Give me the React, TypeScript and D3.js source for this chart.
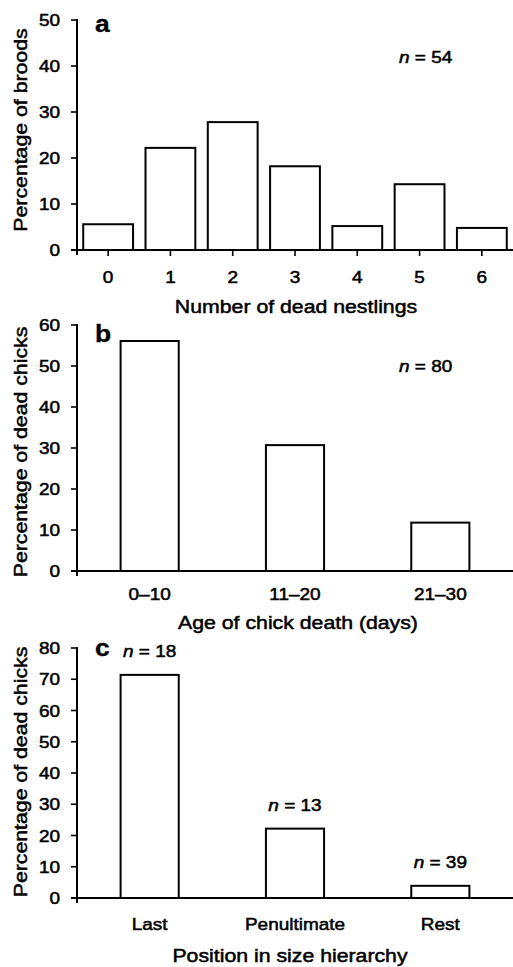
import React from 'react';
import * as d3 from 'd3';

// panel a
const deadNestlings = ['0', '1', '2', '3', '4', '5', '6'];
const broodPct = [5.6, 22.2, 27.8, 18.2, 5.2, 14.3, 4.8];
const broodTicks = [0, 10, 20, 30, 40, 50];

// panel b
const ageClasses = ['0–10', '11–20', '21–30'];
const ageDeathPct = [56.1, 30.7, 11.8];
const ageTicks = [0, 10, 20, 30, 40, 50, 60];

// panel c
const positions = ['Last', 'Penultimate', 'Rest'];
const positionPct = [71.4, 22.2, 3.9];
const positionN = ['18', '13', '39'];
const positionTicks = [0, 10, 20, 30, 40, 50, 60, 70, 80];

const FONT = '"Liberation Sans", Arial, Helvetica, sans-serif';
const STRETCH = 1.15;
const axisX = 77;
const right = 513;

const Label = ({ x, y, size, anchor = 'middle', rotate = 0, bold = false, children }) => (
  <text
    transform={`translate(${x},${y}) rotate(${rotate}) scale(${STRETCH},1)`}
    textAnchor={anchor}
    fontFamily={FONT}
    fontSize={size}
    fontWeight={bold ? 'bold' : 'normal'}
    fill="#000"
    stroke="#000"
    strokeWidth={bold ? 0.3 : 0.5}
  >
    {children}
  </text>
);

const NLabel = ({ x, y, anchor = 'middle', value }) => (
  <Label x={x} y={y} size={16.5} anchor={anchor}>
    <tspan fontStyle="italic">n</tspan> = {value}
  </Label>
);

const Panel = ({
  cats, values, ticks, top, bottom, padIn, padOut, xTicks,
  letter, letterY, yTitle, yTitleY, xTitle, xTitleX, xTitleY, catLabelY, children,
}) => {
  // scales for this panel
  const x = d3.scaleBand().domain(cats).range([axisX, right]).paddingInner(padIn).paddingOuter(padOut);
  const y = d3.scaleLinear().domain([0, ticks[ticks.length - 1]]).range([bottom, top]);

  return (
    <g>
      {/* bars */}
      {cats.map((c, i) => (
        <rect
          key={c}
          x={x(c)}
          y={y(values[i])}
          width={x.bandwidth()}
          height={y(0) - y(values[i])}
          fill="#fff"
          stroke="#000"
          strokeWidth={2}
        />
      ))}

      {/* axes */}
      <line x1={axisX - 6} x2={right} y1={y(0)} y2={y(0)} stroke="#000" strokeWidth={2} />
      <line x1={axisX} x2={axisX} y1={y(ticks[ticks.length - 1]) - 1} y2={y(0) + 5} stroke="#000" strokeWidth={2} />
      {ticks.map((t) => (
        <g key={t}>
          <line x1={axisX - 6} x2={axisX} y1={y(t)} y2={y(t)} stroke="#000" strokeWidth={1.6} />
          <Label x={60} y={y(t) + 6} size={16.5} anchor="end">{t}</Label>
        </g>
      ))}
      {cats.map((c) => (
        <g key={c}>
          {xTicks && (
            <line
              x1={x(c) + x.bandwidth() / 2}
              x2={x(c) + x.bandwidth() / 2}
              y1={y(0)}
              y2={y(0) + 6}
              stroke="#000"
              strokeWidth={1.6}
            />
          )}
          <Label x={x(c) + x.bandwidth() / 2} y={catLabelY} size={16.5}>{c}</Label>
        </g>
      ))}

      {/* titles */}
      <Label x={95} y={letterY} size={23} anchor="start" bold>{letter}</Label>
      <Label x={27} y={yTitleY} size={18.5} rotate={-90}>{yTitle}</Label>
      <Label x={xTitleX} y={xTitleY} size={18.5}>{xTitle}</Label>
      {children && children(x, y)}
    </g>
  );
};

export default function App() {
  return (
    <svg
      width={513}
      height={967}
      style={{ position: 'absolute', left: 0, top: 0, background: '#fff' }}
    >
      <rect width={513} height={967} fill="#fff" />

      <Panel
        cats={deadNestlings}
        values={broodPct}
        ticks={broodTicks}
        top={20}
        bottom={250}
        padIn={0.2}
        padOut={0.1}
        xTicks
        letter="a"
        letterY={32}
        yTitle="Percentage of broods"
        yTitleY={130}
        xTitle="Number of dead nestlings"
        xTitleX={296}
        xTitleY={313}
        catLabelY={283}
      >
        {() => <NLabel x={399} y={63} anchor="start" value="54" />}
      </Panel>

      <Panel
        cats={ageClasses}
        values={ageDeathPct}
        ticks={ageTicks}
        top={325}
        bottom={571}
        padIn={0.6}
        padOut={0.3}
        xTicks={false}
        letter="b"
        letterY={342}
        yTitle="Percentage of dead chicks"
        yTitleY={452}
        xTitle="Age of chick death (days)"
        xTitleX={298}
        xTitleY={629}
        catLabelY={600}
      >
        {() => <NLabel x={399} y={372} anchor="start" value="80" />}
      </Panel>

      <Panel
        cats={positions}
        values={positionPct}
        ticks={positionTicks}
        top={648}
        bottom={898}
        padIn={0.6}
        padOut={0.3}
        xTicks={false}
        letter="c"
        letterY={656}
        yTitle="Percentage of dead chicks"
        yTitleY={772}
        xTitle="Position in size hierarchy"
        xTitleX={290}
        xTitleY={962}
        catLabelY={930}
      >
        {(x, y) =>
          positions.map((p, i) => (
            <NLabel key={p} x={x(p) + x.bandwidth() / 2} y={y(positionPct[i]) - 18} value={positionN[i]} />
          ))
        }
      </Panel>
    </svg>
  );
}
